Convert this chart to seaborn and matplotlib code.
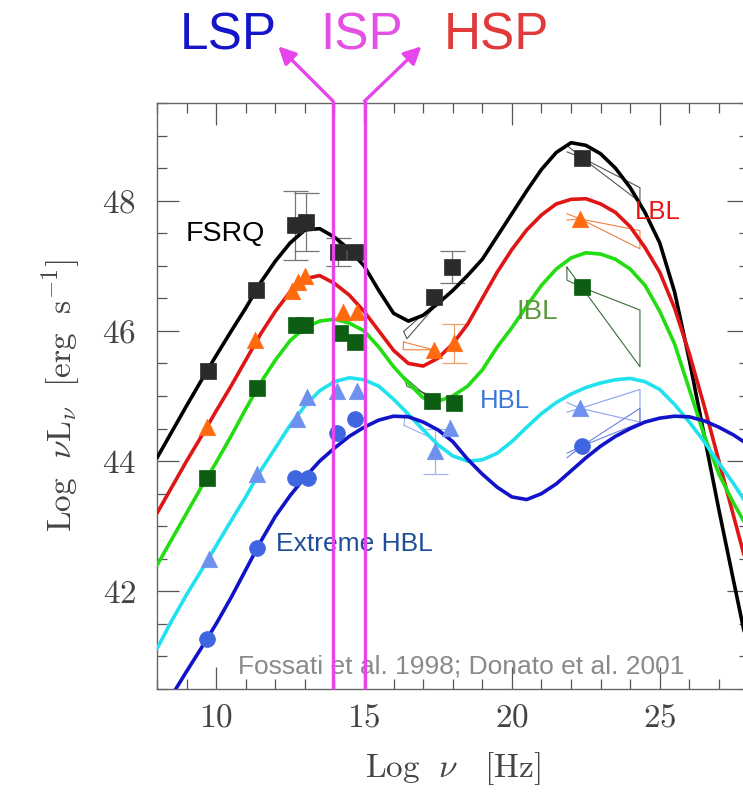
import matplotlib
matplotlib.use("Agg")
import numpy as np
import pandas as pd
import matplotlib.pyplot as plt
import seaborn as sns
from matplotlib.ticker import MultipleLocator

sns.set_theme(style="white")
plt.rcParams["font.family"] = ["Liberation Sans", "DejaVu Sans"]
plt.rcParams["mathtext.fontset"] = "cm"

# ---------------- data ----------------
curve_x = [8.0, 8.5, 9.0, 9.5, 10.0, 10.5, 11.0, 11.5, 12.0, 12.5, 13.0, 13.5, 14.0,
           14.5, 15.0, 15.5, 16.0, 16.5, 17.0, 17.5, 18.0, 18.5, 19.0, 19.5, 20.0,
           20.5, 21.0, 21.5, 22.0, 22.5, 23.0, 23.5, 24.0, 24.5, 25.0, 25.5, 26.0,
           26.5, 27.0, 27.5, 28.0]
fsrq_curve = [44.05, 44.45, 44.85, 45.24, 45.62, 45.99, 46.35, 46.74, 47.07, 47.35, 47.55,
              47.57, 47.44, 47.25, 47.00, 46.62, 46.27, 46.15, 46.24, 46.42, 46.62, 46.85,
              47.10, 47.45, 47.80, 48.15, 48.48, 48.74, 48.89, 48.85, 48.72, 48.50, 48.20,
              47.82, 47.35, 46.60, 45.55, 44.40, 43.25, 42.15, 41.06]
lbl_curve = [43.20, 43.60, 44.00, 44.38, 44.77, 45.15, 45.55, 45.95, 46.30, 46.60, 46.80,
             46.85, 46.73, 46.55, 46.30, 46.00, 45.70, 45.50, 45.46, 45.58, 45.80, 46.10,
             46.50, 46.90, 47.25, 47.55, 47.78, 47.95, 48.02, 48.03, 47.95, 47.82, 47.60,
             47.28, 46.90, 46.35, 45.65, 44.85, 44.00, 43.15, 42.30]
ibl_curve = [42.40, 42.80, 43.20, 43.60, 43.98, 44.38, 44.80, 45.20, 45.55, 45.85, 46.05,
             46.15, 46.18, 46.12, 46.00, 45.75, 45.45, 45.20, 44.97, 44.92, 45.00, 45.15,
             45.40, 45.75, 46.05, 46.38, 46.70, 46.95, 47.12, 47.20, 47.18, 47.10, 46.95,
             46.70, 46.30, 45.80, 45.10, 44.40, 43.80, 43.35, 42.95]
hbl_curve = [41.12, 41.55, 41.95, 42.32, 42.70, 43.08, 43.45, 43.85, 44.20, 44.55, 44.85,
             45.08, 45.22, 45.28, 45.25, 45.15, 44.95, 44.72, 44.48, 44.25, 44.08, 44.00,
             44.02, 44.12, 44.30, 44.52, 44.73, 44.90, 45.03, 45.13, 45.20, 45.25, 45.27,
             45.22, 45.10, 44.87, 44.60, 44.30, 43.97, 43.65, 43.30]
ehbl_curve = [40.00, 40.40, 40.77, 41.13, 41.50, 41.90, 42.33, 42.76, 43.15, 43.47, 43.75,
              44.00, 44.20, 44.38, 44.52, 44.63, 44.69, 44.68, 44.60, 44.48, 44.30, 44.03,
              43.80, 43.60, 43.45, 43.41, 43.50, 43.65, 43.85, 44.05, 44.23, 44.38, 44.50,
              44.60, 44.66, 44.69, 44.68, 44.62, 44.52, 44.40, 44.25]

fsrq_x = [9.71, 11.36, 12.65, 13.05, 14.13, 14.70, 17.35, 17.97, 22.36]
fsrq_y = [45.39, 46.63, 47.62, 47.67, 47.21, 47.21, 46.52, 46.98, 48.66]
lbl_x = [9.70, 11.33, 12.55, 12.78, 13.00, 14.30, 14.76, 17.35, 18.03, 22.31]
lbl_y = [44.53, 45.86, 46.62, 46.75, 46.84, 46.29, 46.29, 45.71, 45.81, 47.72]
ibl_x = [9.70, 11.38, 12.70, 13.00, 14.20, 14.70, 17.30, 18.03, 22.36]
ibl_y = [43.74, 45.12, 46.09, 46.09, 45.96, 45.83, 44.92, 44.89, 46.67]
hbl_x = [9.75, 11.38, 12.74, 13.07, 14.09, 14.76, 17.40, 17.90, 22.31]
hbl_y = [42.50, 43.80, 44.64, 44.99, 45.07, 45.07, 44.15, 44.51, 44.81]
ehbl_x = [9.70, 11.38, 12.68, 13.12, 14.09, 14.70, 22.36]
ehbl_y = [41.27, 42.67, 43.74, 43.74, 44.43, 44.64, 44.23]

# error bars (x, y, half-length)
fsrq_err_x = [12.65, 13.05, 14.13, 17.97]
fsrq_err_y = [47.62, 47.67, 47.21, 46.98]
fsrq_err = [0.53, 0.45, 0.22, 0.24]
lbl_err_x = [18.03]
lbl_err_y = [45.81]
lbl_err = [0.30]
hbl_err_x = [17.40]
hbl_err_y = [44.15]
hbl_err = [0.35]

# gamma-ray bow ties
bt_fsrq_x = [21.86, 22.36, 24.33, 24.33, 22.36, 21.86]
bt_fsrq_y = [48.85, 48.66, 48.20, 47.98, 48.66, 48.75]
bt_lbl_x = [21.86, 22.31, 24.33, 24.33, 22.31, 21.86]
bt_lbl_y = [47.80, 47.72, 47.54, 47.26, 47.72, 47.70]
bt_ibl_x = [21.86, 22.36, 24.33, 24.33, 22.36, 21.86, 21.86]
bt_ibl_y = [46.98, 46.67, 46.32, 45.45, 46.67, 46.78, 46.98]
bt_hbl_x = [21.86, 22.31, 24.33, 24.33, 22.31, 21.86]
bt_hbl_y = [44.90, 44.81, 45.10, 44.60, 44.81, 44.75]
bt_ehbl_x = [21.86, 22.36, 24.33, 24.33, 22.36, 21.86]
bt_ehbl_y = [44.12, 44.23, 44.81, 44.59, 44.23, 44.05]

# X-ray bow ties
bx_fsrq_x = [16.34, 17.35, 17.58, 16.45, 16.34]
bx_fsrq_y = [45.99, 46.40, 46.47, 45.88, 45.99]
bx_lbl_x = [16.33, 17.35, 16.33, 16.33]
bx_lbl_y = [45.83, 45.71, 45.71, 45.83]
bx_ibl_x = [16.35, 17.30, 17.60, 16.45, 16.35]
bx_ibl_y = [45.30, 44.92, 44.95, 45.15, 45.30]
bx_hbl_x = [16.35, 17.30, 17.90, 16.40, 16.35]
bx_hbl_y = [44.55, 44.35, 44.10, 44.75, 44.55]

isp_bounds = [13.95, 15.02]

c_fsrq_pt, c_fsrq_ln = "#2b2b2b", "#000000"
c_lbl_pt, c_lbl_ln = "#ff6a10", "#e01515"
c_ibl_pt, c_ibl_ln = "#0d5e12", "#22dd11"
c_hbl_pt, c_hbl_ln = "#6e90ee", "#20e2ee"
c_ehbl_pt, c_ehbl_ln = "#3f66e0", "#1212c8"
mag = "#e545ea"

# ---------------- figure ----------------
fig = plt.figure(figsize=(7.43, 7.95), dpi=100)
ax = fig.add_axes([157 / 743, 106 / 795, (748.5 - 157) / 743, 586 / 795])

curves = pd.DataFrame({
    "x": curve_x * 5,
    "y": fsrq_curve + lbl_curve + ibl_curve + hbl_curve + ehbl_curve,
    "cls": (["FSRQ"] * len(curve_x) + ["LBL"] * len(curve_x) + ["IBL"] * len(curve_x)
            + ["HBL"] * len(curve_x) + ["EHBL"] * len(curve_x)),
})
sns.lineplot(data=curves, x="x", y="y", hue="cls", sort=False, estimator=None,
             palette={"FSRQ": c_fsrq_ln, "LBL": c_lbl_ln, "IBL": c_ibl_ln,
                      "HBL": c_hbl_ln, "EHBL": c_ehbl_ln},
             linewidth=2.6, legend=False, ax=ax, zorder=3)
for ln in ax.get_lines():
    ln.set_solid_joinstyle("round")

# bow ties
for bx, by, c in [(bt_fsrq_x, bt_fsrq_y, "#555555"), (bt_lbl_x, bt_lbl_y, "#f08040"),
                  (bt_ibl_x, bt_ibl_y, "#3a6a3a"), (bt_hbl_x, bt_hbl_y, "#8aa0ee"),
                  (bt_ehbl_x, bt_ehbl_y, "#6a80e0"),
                  (bx_fsrq_x, bx_fsrq_y, "#555555"), (bx_lbl_x, bx_lbl_y, "#f08040"),
                  (bx_ibl_x, bx_ibl_y, "#3a6a3a"), (bx_hbl_x, bx_hbl_y, "#9ab0ee")]:
    ax.plot(bx, by, color=c, lw=0.8, zorder=2)

# error bars
ax.errorbar(fsrq_err_x, fsrq_err_y, yerr=fsrq_err, fmt="none", ecolor="#777777",
            elinewidth=0.9, capsize=9, capthick=0.9, zorder=2)
ax.errorbar(lbl_err_x, lbl_err_y, yerr=lbl_err, fmt="none", ecolor="#f0a070",
            elinewidth=0.9, capsize=9, capthick=0.9, zorder=2)
ax.errorbar(hbl_err_x, hbl_err_y, yerr=hbl_err, fmt="none", ecolor="#a0b4f0",
            elinewidth=0.9, capsize=9, capthick=0.9, zorder=2)

# points
sns.scatterplot(x=fsrq_x, y=fsrq_y, marker="s", s=120, color=c_fsrq_pt, edgecolor=c_fsrq_pt,
                linewidth=0.5, ax=ax, zorder=4)
sns.scatterplot(x=lbl_x, y=lbl_y, marker="^", s=140, color=c_lbl_pt, edgecolor=c_lbl_pt,
                linewidth=0.5, ax=ax, zorder=4)
sns.scatterplot(x=ibl_x, y=ibl_y, marker="s", s=120, color=c_ibl_pt, edgecolor=c_ibl_pt,
                linewidth=0.5, ax=ax, zorder=4)
sns.scatterplot(x=hbl_x, y=hbl_y, marker="^", s=140, color=c_hbl_pt, edgecolor=c_hbl_pt,
                linewidth=0.5, ax=ax, zorder=4)
sns.scatterplot(x=ehbl_x, y=ehbl_y, marker="o", s=130, color=c_ehbl_pt, edgecolor=c_ehbl_pt,
                linewidth=0.5, ax=ax, zorder=4)

# axes
ax.set_xlim(8, 28)
ax.set_ylim(40.5, 49.5)
ax.set_xticks([10, 15, 20, 25])
ax.set_xticklabels([r"$10$", r"$15$", r"$20$", r"$25$"])
ax.set_yticks([42, 44, 46, 48])
ax.set_yticklabels([r"$42$", r"$44$", r"$46$", r"$48$"])
ax.xaxis.set_minor_locator(MultipleLocator(1))
ax.yaxis.set_minor_locator(MultipleLocator(0.5))
ax.tick_params(which="both", direction="in", top=True, right=True, bottom=True, left=True,
               colors="#555555", width=0.9)
ax.tick_params(which="major", length=15.5, labelsize=24, labelcolor="#444444")
ax.tick_params(axis="y", which="major", pad=15)
ax.tick_params(axis="x", which="major", pad=10)
ax.tick_params(which="minor", length=7)
for sp in ax.spines.values():
    sp.set_color("#666666")
    sp.set_linewidth(1.0)
ax.set_xlabel(r"$\mathrm{Log}\ \ \nu\ \ \ [\mathrm{Hz}]$", fontsize=24, color="#444444",
              labelpad=12)
ax.set_ylabel(r"$\mathrm{Log}\ \ \nu \mathrm{L}_\nu\ \ [\mathrm{erg\ \ s^{-1}}]$",
              fontsize=24, color="#444444", labelpad=14)

# class labels
ax.text(8.96, 47.38, "FSRQ", fontsize=20.5, color="black", va="baseline", ha="left", zorder=6)
ax.text(24.17, 47.72, "LBL", fontsize=18.5, color="#ee1111", va="baseline", ha="left", zorder=6)
ax.text(20.17, 46.18, "IBL", fontsize=20, color="#5a9a3c", va="baseline", ha="left", zorder=6)
ax.text(18.93, 44.81, "HBL", fontsize=18.5, color="#3d78d8", va="baseline", ha="left", zorder=6)
ax.text(12.04, 42.62, "Extreme HBL", fontsize=19, color="#1f4d9a", va="baseline", ha="left",
        zorder=6)
ax.text(10.73, 40.74, "Fossati et al. 1998; Donato et al. 2001", fontsize=19,
        color="#8a8a8a", va="baseline", ha="left", zorder=6)

# ISP band lines and arrows
for xb in isp_bounds:
    ax.plot([xb, xb], [40.5, 49.53], color=mag, lw=2.4, clip_on=False, zorder=8,
            solid_capstyle="butt")
ax.annotate("", xy=(12.1, 50.37), xytext=(isp_bounds[0], 49.53),
            arrowprops=dict(arrowstyle="-|>", color=mag, lw=2.4, mutation_scale=26,
                            shrinkA=0, shrinkB=0), annotation_clip=False, zorder=8)
ax.annotate("", xy=(16.94, 50.37), xytext=(isp_bounds[1], 49.53),
            arrowprops=dict(arrowstyle="-|>", color=mag, lw=2.4, mutation_scale=26,
                            shrinkA=0, shrinkB=0), annotation_clip=False, zorder=8)

fig.text(228 / 743, 1 - 50 / 795, "LSP", fontsize=37, color="#1414c8", ha="center",
         va="baseline")
fig.text(362 / 743, 1 - 50 / 795, "ISP", fontsize=37, color="#e44fe4", ha="center",
         va="baseline")
fig.text(496 / 743, 1 - 50 / 795, "HSP", fontsize=37, color="#e03a3a", ha="center",
         va="baseline")

fig.savefig("out.png", dpi=100)
